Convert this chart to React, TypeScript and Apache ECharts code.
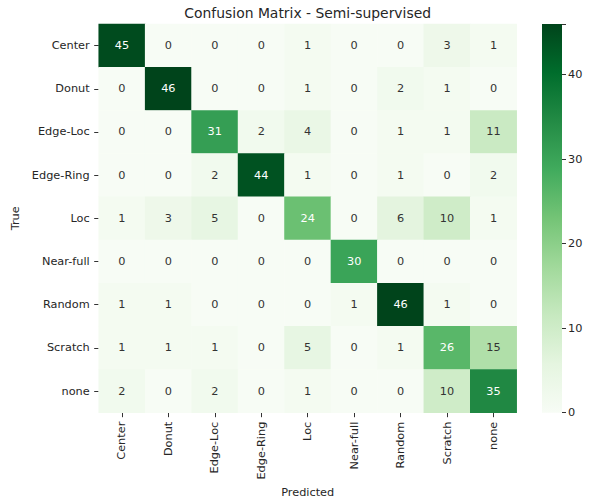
import React, { useEffect, useRef } from "react";
import * as echarts from "echarts";

const labels = ["Center", "Donut", "Edge-Loc", "Edge-Ring", "Loc", "Near-full", "Random", "Scratch", "none"];
const matrix: number[][] = [
  [45, 0, 0, 0, 1, 0, 0, 3, 1],
  [0, 46, 0, 0, 1, 0, 2, 1, 0],
  [0, 0, 31, 2, 4, 0, 1, 1, 11],
  [0, 0, 2, 44, 1, 0, 1, 0, 2],
  [1, 3, 5, 0, 24, 0, 6, 10, 1],
  [0, 0, 0, 0, 0, 30, 0, 0, 0],
  [1, 1, 0, 0, 0, 1, 46, 1, 0],
  [1, 1, 1, 0, 5, 0, 1, 26, 15],
  [2, 0, 2, 0, 1, 0, 0, 10, 35],
];
const colorTicks = [0, 10, 20, 30, 40];
const greens = ["#f7fcf5", "#e5f5e0", "#c7e9c0", "#a1d99b", "#74c476", "#41ab5d", "#238b45", "#006d2c", "#00441b"];
const vmin = 0;
const vmax = 46;

export default function App() {
  const ref = useRef<HTMLDivElement>(null);
  useEffect(() => {
    if (!ref.current) return;
    document.body.style.margin = "0";
    const chart = echarts.init(ref.current, undefined, { renderer: "svg" });
    const data: any[] = [];
    matrix.forEach((row, i) =>
      row.forEach((v, j) => {
        data.push({
          value: [j, i, v],
          label: { color: v >= 20 ? "#ffffff" : "#333333" },
        });
      })
    );
    const font = "DejaVu Sans";
    const fs = 11.3;
    const txt = "#262626";
    const grad = new echarts.graphic.LinearGradient(
      0, 1, 0, 0,
      greens.map((c, k) => ({ offset: k / (greens.length - 1), color: c }))
    );
    chart.setOption({
      animation: false,
      backgroundColor: "#ffffff",
      textStyle: { fontFamily: font },
      title: {
        text: "Confusion Matrix - Semi-supervised",
        left: 307.7,
        textAlign: "center",
        top: 5.5,
        padding: 0,
        textStyle: { fontFamily: font, fontSize: 13.9, fontWeight: "normal", color: txt },
      },
      grid: [
        { left: 98.7, top: 24, width: 418, height: 388.7, outerBoundsMode: "none", containLabel: false },
        { left: 542, top: 24, width: 20, height: 388.7, outerBoundsMode: "none", containLabel: false },
      ],
      xAxis: [
        {
          type: "category",
          data: labels,
          gridIndex: 0,
          position: "bottom",
          axisLine: { show: false },
          axisTick: { show: true, alignWithLabel: true, length: 4.5, lineStyle: { color: "#333" } },
          axisLabel: { rotate: 90, fontSize: fs, color: txt, margin: 9, fontFamily: font },
          splitLine: { show: false },
          name: "Predicted",
          nameLocation: "middle",
          nameGap: 72,
          nameTextStyle: { fontSize: fs, color: txt, fontFamily: font },
        },
        {
          type: "category",
          data: [""],
          gridIndex: 1,
          show: false,
        },
      ],
      yAxis: [
        {
          type: "category",
          data: labels,
          gridIndex: 0,
          inverse: true,
          axisLine: { show: false },
          axisTick: { show: true, alignWithLabel: true, length: 4.5, lineStyle: { color: "#333" } },
          axisLabel: { fontSize: fs, color: txt, margin: 9, fontFamily: font },
          splitLine: { show: false },
          name: "True",
          nameLocation: "middle",
          nameGap: 71,
          nameRotate: 90,
          nameTextStyle: { fontSize: fs, color: txt, fontFamily: font },
        },
        {
          type: "value",
          gridIndex: 1,
          position: "right",
          min: vmin,
          max: vmax,
          interval: 10,
          axisLine: { show: false },
          axisTick: { show: true, length: 4, lineStyle: { color: "#333" } },
          axisLabel: {
            fontSize: fs,
            color: txt,
            margin: 6,
            fontFamily: font,
            formatter: (v: number) => (colorTicks.includes(v) ? String(v) : ""),
          },
          splitLine: { show: false },
        },
      ],
      visualMap: {
        show: false,
        type: "continuous",
        min: vmin,
        max: vmax,
        seriesIndex: 0,
        dimension: 2,
        inRange: { color: greens },
      },
      series: [
        {
          type: "heatmap",
          xAxisIndex: 0,
          yAxisIndex: 0,
          data,
          label: { show: true, fontSize: fs, fontFamily: font },
          itemStyle: { borderWidth: 0 },
          emphasis: { disabled: true },
        },
        {
          type: "bar",
          xAxisIndex: 1,
          yAxisIndex: 1,
          data: [vmax],
          barWidth: "100%",
          itemStyle: { color: grad },
          silent: true,
        },
      ],
    });
    return () => chart.dispose();
  }, []);
  return <div ref={ref} style={{ width: 593, height: 499 }} />;
}
